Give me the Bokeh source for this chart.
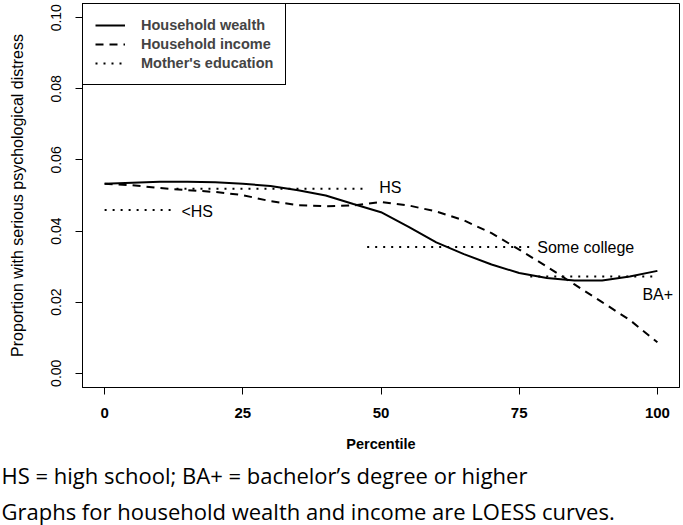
from bokeh.plotting import figure
from bokeh.models import Legend, LegendItem, Title, Range1d
from bokeh.core.properties import value
from bokeh.embed import file_html
from bokeh.resources import INLINE

# ---- data ----
percentile = [0, 5, 10, 15, 20, 25, 30, 35, 40, 45, 50, 55, 60, 65, 70, 75, 80, 85, 90, 95, 100]
wealth = [0.0533, 0.0536, 0.0539, 0.0539, 0.0537, 0.0533, 0.0527, 0.0515, 0.0500, 0.0476, 0.0453,
          0.0412, 0.0368, 0.0335, 0.0306, 0.0282, 0.0268, 0.0261, 0.0261, 0.0272, 0.0288]
income = [0.0533, 0.0529, 0.0521, 0.0515, 0.0510, 0.0501, 0.0484, 0.0473, 0.0470, 0.0472, 0.0482,
          0.0472, 0.0455, 0.0430, 0.0394, 0.0348, 0.0300, 0.0250, 0.0200, 0.0150, 0.0087]
edu_labels = ["<HS", "HS", "Some college", "BA+"]
edu_start = [0, 13, 47.5, 77]
edu_end = [13, 47.5, 77, 100]
edu_value = [0.0459, 0.0519, 0.0355, 0.0272]

x_ticks = [0, 25, 50, 75, 100]
y_ticks = [0.00, 0.02, 0.04, 0.06, 0.08, 0.10]
y_tick_labels = ["0.00", "0.02", "0.04", "0.06", "0.08", "0.10"]

legend_labels = ["Household wealth", "Household income", "Mother's education"]
caption = ["HS = high school; BA+ = bachelor\u2019s degree or higher",
           "Graphs for household wealth and income are LOESS curves."]

# ---- layout ----
W, H = 683, 525
BL, BR, BT, BB = 82, 4, 3, 137
FONT = "Liberation Sans"

p = figure(width=W, height=H, output_backend="svg", toolbar_location=None,
           x_range=Range1d(-4, 104), y_range=Range1d(-0.004, 0.104),
           min_border_left=BL, min_border_right=BR, min_border_top=BT, min_border_bottom=BB)
p.grid.visible = False
p.outline_line_color = "black"
p.outline_line_width = 1
p.outline_line_alpha = 1
p.background_fill_color = "white"
p.border_fill_color = "white"

r_w = p.line(percentile, wealth, line_color="black", line_width=2)
r_i = p.line(percentile, income, line_color="black", line_width=2, line_dash="8 6")
r_e = p.segment(x0=edu_start, x1=edu_end, y0=edu_value, y1=edu_value,
                line_color="black", line_width=2, line_dash="2 6")

p.text(x=edu_end, y=edu_value, text=edu_labels,
       x_offset=[5, 12, 7, -15], y_offset=[1, -1, 0, 18],
       text_font=value(FONT), text_font_size="16px", text_baseline="middle",
       text_align="left", text_color="black")

# axes
for ax in (p.xaxis[0], p.yaxis[0]):
    ax.axis_line_color = "black"
    ax.major_tick_line_color = "black"
    ax.major_tick_out = 7
    ax.major_tick_in = 0
    ax.minor_tick_line_color = None
    ax.major_label_text_color = "black"
    ax.axis_label_text_color = "black"
    ax.major_label_text_font = FONT
    ax.axis_label_text_font = FONT

p.xaxis.ticker = x_ticks
p.xaxis.major_label_text_font_size = "15px"
p.xaxis.major_label_text_font_style = "bold"
p.xaxis.major_label_standoff = 13
p.xaxis.axis_label = "Percentile"
p.xaxis.axis_label_text_font_size = "14.5px"
p.xaxis.axis_label_text_font_style = "bold"
p.xaxis.axis_label_standoff = 15

p.yaxis.ticker = y_ticks
p.yaxis.major_label_overrides = {t: l for t, l in zip(y_ticks, y_tick_labels)}
p.yaxis.major_label_orientation = "vertical"
p.yaxis.major_label_text_font_size = "14px"
p.yaxis.major_label_standoff = 14
p.yaxis.axis_label = "Proportion with serious psychological distress"
p.yaxis.axis_label_text_font_size = "16px"
p.yaxis.axis_label_text_font_style = "normal"
p.yaxis.axis_label_standoff = 23

legend = Legend(items=[LegendItem(label=legend_labels[0], renderers=[r_w]),
                       LegendItem(label=legend_labels[1], renderers=[r_i]),
                       LegendItem(label=legend_labels[2], renderers=[r_e])],
                location="top_left", margin=0, padding=12, spacing=1,
                label_height=18, glyph_height=18, glyph_width=30, label_standoff=16,
                label_text_font=FONT, label_text_font_style="bold", label_text_font_size="14.5px",
                border_line_color="black", border_line_width=1, border_line_alpha=1,
                background_fill_color="white", background_fill_alpha=1)
p.add_layout(legend)

# captions below the axis
for i, txt in enumerate(caption):
    t = Title(text=txt, align="left", offset=-BL + 1, standoff=7 if i == 0 else 0,
              text_font="Open Sans", text_font_size="22px", text_font_style="normal",
              text_color="black")
    p.add_layout(t, "below")

open("out.html", "w").write(file_html(p, INLINE))
